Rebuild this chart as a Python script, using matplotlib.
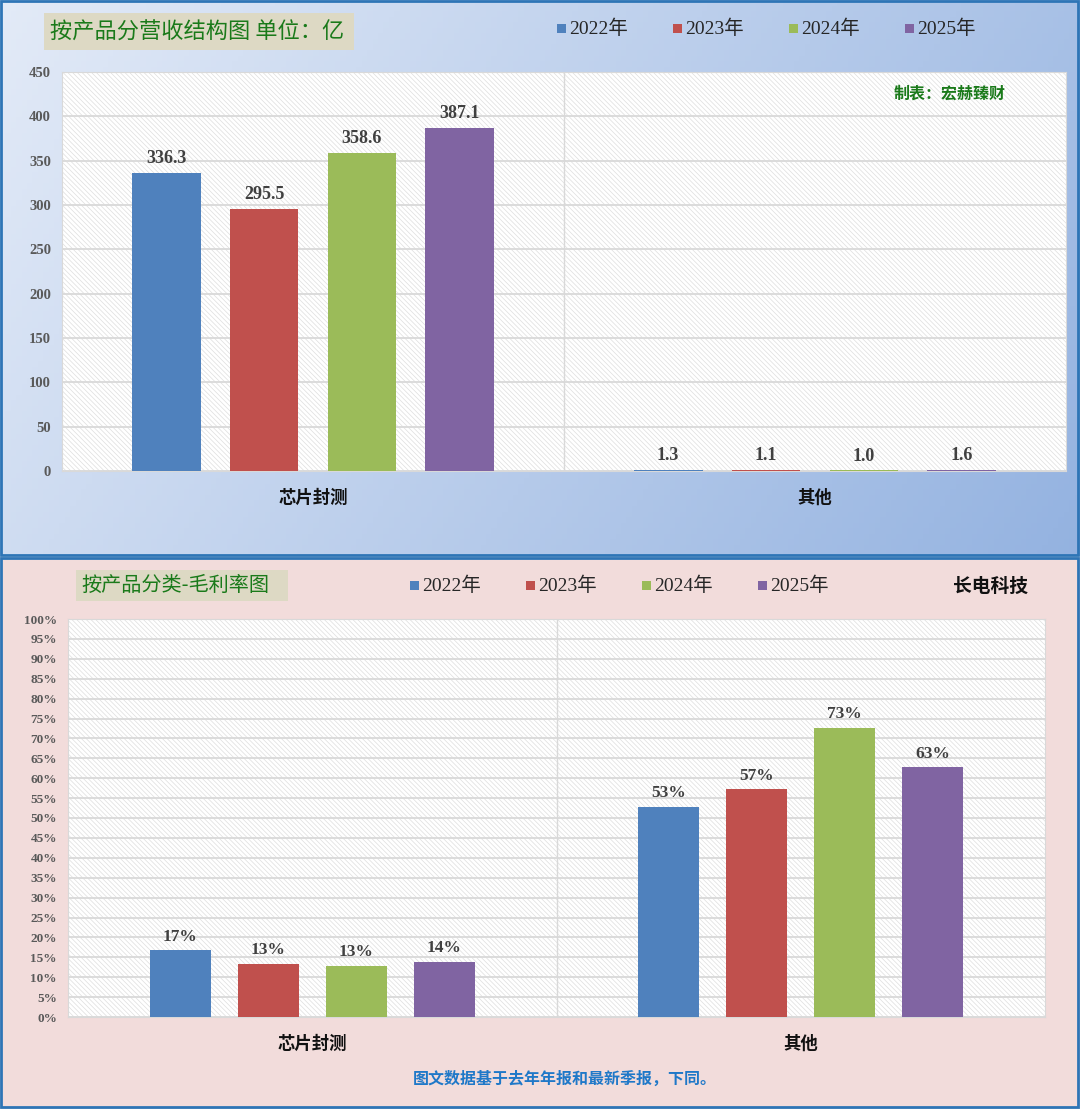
import numpy as np
import matplotlib
matplotlib.use("Agg")
import matplotlib.pyplot as plt
from matplotlib.patches import Rectangle

plt.rcParams['font.family'] = ['Liberation Serif', 'Noto Sans CJK SC', 'DejaVu Sans']
plt.rcParams['hatch.linewidth'] = 0.5

# data
categories = ["芯片封测", "其他"]
years = ["2022年", "2023年", "2024年", "2025年"]
colors = ["#4f81bd", "#c0504d", "#9bbb59", "#8064a2"]
revenue = [[336.3, 1.3], [295.5, 1.1], [358.6, 1.0], [387.1, 1.6]]
margin = [[0.168, 0.528], [0.134, 0.572], [0.129, 0.726], [0.139, 0.628]]
rev_ticks = list(range(0, 451, 50))
margin_ticks = [i / 100 for i in range(0, 101, 5)]

W, H = 1080, 1109
fig = plt.figure(figsize=(W / 100, H / 100), dpi=100)


def rect(x0, y0, x1, y1):
    return [x0 / W, 1 - y1 / H, (x1 - x0) / W, (y1 - y0) / H]


# backgrounds
bg = fig.add_axes([0, 0, 1, 1], zorder=-10)
bg.set_xlim(0, W)
bg.set_ylim(H, 0)
bg.axis("off")
gx, gy = np.meshgrid(np.linspace(0, 1, 200), np.linspace(0, 1, 100))
t = (gx * 0.75 + gy * 0.25)
c0 = np.array([0.89, 0.92, 0.97])
c1 = np.array([0.58, 0.70, 0.88])
img = c0[None, None, :] * (1 - t[..., None]) + c1[None, None, :] * t[..., None]
bg.imshow(img, extent=[0, W, 556, 0], aspect="auto", zorder=0)
bg.add_patch(Rectangle((0, 557), W, H - 557, facecolor="#f2dcdb", edgecolor="none", zorder=0))
bg.add_patch(Rectangle((1, 1), W - 3, 554, facecolor="none", edgecolor="#2e75b6", lw=2, zorder=2))
bg.add_patch(Rectangle((1, 558), W - 3, H - 560, facecolor="none", edgecolor="#2e75b6", lw=2, zorder=2))

# title boxes
bg.add_patch(Rectangle((44, 13), 310, 37, facecolor="#ddd9c4", edgecolor="none", zorder=1))
bg.text(50, 32, "按产品分营收结构图 单位：亿", fontsize=16, color="#1a7a1a",
        family=["Noto Sans CJK SC"], va="center", ha="left", zorder=3)
bg.add_patch(Rectangle((76, 570), 212, 31, facecolor="#ddd9c4", edgecolor="none", zorder=1))
bg.text(81, 585, "按产品分类-毛利率图", fontsize=14.5, color="#1a7a1a",
        family=["Noto Sans CJK SC"], va="center", ha="left", zorder=3)

# manual legends
for i, (yr, c) in enumerate(zip(years, colors)):
    x = 557 + i * 116
    bg.add_patch(Rectangle((x, 24), 9, 9, facecolor=c, edgecolor="none", zorder=3))
    bg.text(x + 12, 29, yr, fontsize=14, color="#262626", va="center", ha="left", zorder=3)
    x = 410 + i * 116
    bg.add_patch(Rectangle((x, 581), 9, 9, facecolor=c, edgecolor="none", zorder=3))
    bg.text(x + 12, 586, yr, fontsize=14, color="#262626", va="center", ha="left", zorder=3)

bg.text(1028, 586, "长电科技", fontsize=13.5, fontweight="bold", color="#111111",
        family=["Noto Sans CJK SC"], va="center", ha="right", zorder=3)
bg.text(565, 1079, "图文数据基于去年年报和最新季报，下同。", fontsize=11.5, fontweight="bold",
        color="#1f78c8", family=["Noto Sans CJK SC"], va="center", ha="center", zorder=3)


def draw_panel(box, values, ticks, ymax, fmt, tickfmt, width, step, lab_size):
    ax = fig.add_axes(rect(*box))
    ax.set_facecolor("white")
    ax.add_patch(Rectangle((0, 0), 1, 1, transform=ax.transAxes, facecolor="white",
                           edgecolor="#dedede", hatch="\\" * 7, lw=0, zorder=0))
    x = np.arange(len(categories))
    for i, (vals, c) in enumerate(zip(values, colors)):
        bars = ax.bar(x + (i - 1.5) * step, vals, width, color=c, zorder=3)
        ax.bar_label(bars, labels=[fmt(v) for v in vals], padding=4, fontsize=lab_size,
                     fontweight="bold", color="#404040", zorder=4)
    ax.set_xlim(-0.5, 1.5)
    ax.set_ylim(0, ymax)
    ax.set_yticks(ticks)
    ax.set_yticklabels([tickfmt(v) for v in ticks])
    ax.yaxis.grid(True, color="#d9d9d9", lw=1.3, zorder=1)
    ax.set_axisbelow(True)
    ax.axvline(0.5, color="#d9d9d9", lw=1, zorder=1)
    ax.set_xticks(x)
    ax.set_xticklabels(categories, fontsize=12.5, fontweight="bold", color="#111111",
                       family=["Noto Sans CJK SC"])
    ax.tick_params(axis="x", length=0, pad=13)
    ax.tick_params(axis="y", length=0, pad=8)
    for spine in ax.spines.values():
        spine.set_color("#d9d9d9")
    return ax


ax1 = draw_panel((62, 72, 1066, 471), revenue, rev_ticks, 450,
                 lambda v: f"{v:.1f}", lambda v: f"{v}", 0.137, 0.195, 13)
for lab in ax1.get_yticklabels():
    lab.set_fontsize(10.5)
    lab.set_fontweight("bold")
    lab.set_color("#595959")
ax1.text(0.94, 0.965, "制表：宏赫臻财", transform=ax1.transAxes, fontsize=11.5, fontweight="bold",
         color="#1a7a1a", family=["Noto Sans CJK SC"], ha="right", va="top", zorder=5)

ax2 = draw_panel((68, 619, 1045, 1017), margin, margin_ticks, 1.0,
                 lambda v: f"{v:.0%}", lambda v: f"{v:.0%}", 0.125, 0.18, 12.5)
for lab in ax2.get_yticklabels():
    lab.set_fontsize(9.5)
    lab.set_fontweight("bold")
    lab.set_color("#595959")

fig.savefig("out.png", dpi=100)
